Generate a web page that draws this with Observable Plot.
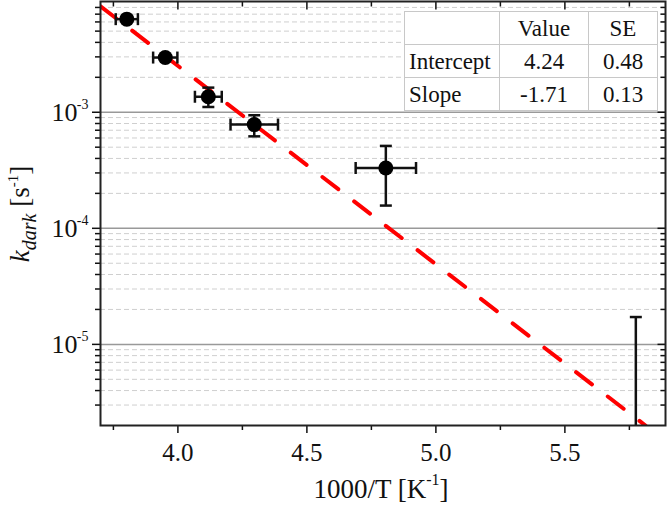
<!DOCTYPE html>
<html>
<head>
<meta charset="utf-8">
<script src="https://cdn.jsdelivr.net/npm/d3@7"></script>
<script src="https://cdn.jsdelivr.net/npm/@observablehq/plot@0.6"></script>
<style>
  body { margin: 0; background: #fff; }
  #wrap { position: relative; width: 667px; height: 512px; font-family: 'Liberation Serif', serif; }
  #tbl { position: absolute; left: 404px; top: 11px; width: 253px; table-layout: fixed; border-collapse: collapse; background: #fff;
         font-family: 'Liberation Serif', serif; font-size: 23px; color: #111; border: 1.5px solid #777; }
  #tbl tr { height: 33px; }
  #tbl td { border: 1px solid #c8c8c8; padding: 0; line-height: 1; white-space: nowrap; }
  #tbl td.c0 { text-align: left; padding-left: 4px; }
  #tbl td.c1, #tbl td.c2 { text-align: center; }
</style>
</head>
<body>
<div id="wrap"></div>
<script>
// ---- data ----
const invT     = [3.802, 3.951, 4.118, 4.296, 4.806, 5.775];      // 1000/T [K^-1]
const invTErr  = [0.043, 0.047, 0.052, 0.092, 0.117, 0];
const kDark    = [6.34e-3, 2.96e-3, 1.36e-3, 7.83e-4, 3.31e-4, 1e-6]; // s^-1 (last point off-scale)
const kLow     = [6.1e-3, 2.85e-3, 1.11e-3, 6.2e-4, 1.57e-4, 1e-7];
const kHigh    = [6.6e-3, 3.08e-3, 1.63e-3, 9.42e-4, 5.13e-4, 1.72e-5];

const fitRows  = ["Intercept", "Slope"];
const fitValue = [4.24, -1.71];
const fitSE    = [0.48, 0.13];
const fitCols  = ["", "Value", "SE"];

const xDomain  = [3.70, 5.89];
const yDomain  = [2e-6, 9e-3];
const xMajor   = [4.0, 4.5, 5.0, 5.5];
const xMinor   = [3.75, 4.25, 4.75, 5.25, 5.75];
const yMajor   = [1e-5, 1e-4, 1e-3];
const yMinor   = [3e-6, 4e-6, 5e-6, 6e-6, 7e-6, 8e-6, 9e-6,
                  2e-5, 3e-5, 4e-5, 5e-5, 6e-5, 7e-5, 8e-5, 9e-5,
                  2e-4, 3e-4, 4e-4, 5e-4, 6e-4, 7e-4, 8e-4, 9e-4,
                  2e-3, 3e-3, 4e-3, 5e-3, 6e-3, 7e-3, 8e-3];

const FONT = "'Liberation Serif', serif";

// ---- derived tables ----
const points = invT.map((x, i) => ({
  x, k: kDark[i], xlo: x - invTErr[i], xhi: x + invTErr[i], klo: kLow[i], khi: kHigh[i]
}));
// fitted line log10(k) = Intercept + Slope * x, between the left edge and where it leaves the bottom
const xEnd = (Math.log10(yDomain[0]) - fitValue[0]) / fitValue[1];
const fitLine = [xDomain[0], Math.min(xEnd, xDomain[1])].map(x => ({x, k: Math.pow(10, fitValue[0] + fitValue[1] * x)}));

// custom symbols for caps and inward ticks
const len = size => Math.sqrt(size / Math.PI);
const capV = {draw(ctx, s) { const r = len(s); ctx.moveTo(0, -r); ctx.lineTo(0, r); }};
const capH = {draw(ctx, s) { const r = len(s); ctx.moveTo(-r, 0); ctx.lineTo(r, 0); }};
const tickDown = {draw(ctx, s) { const r = len(s); ctx.moveTo(0, 0); ctx.lineTo(0, r); }};
const tickLeft = {draw(ctx, s) { const r = len(s); ctx.moveTo(0, 0); ctx.lineTo(-r, 0); }};

const svg = Plot.plot({
  width: 667,
  height: 512,
  marginLeft: 100,
  marginRight: 2,
  marginTop: 1,
  marginBottom: 87,
  style: {fontFamily: FONT, fontSize: "24px", background: "white", color: "#111"},
  x: {domain: xDomain},
  y: {type: "log", domain: yDomain},
  marks: [
    Plot.ruleY(yMinor, {y: d => d, stroke: "#cfcfcf", strokeWidth: 1, strokeDasharray: "5,3"}),
    Plot.ruleY(yMajor, {y: d => d, stroke: "#999", strokeWidth: 1.5}),
    // axes (outward ticks)
    Plot.axisX({ticks: xMajor, tickSize: 8, tickPadding: 10, tickFormat: d3.format(".1f"), strokeWidth: 1.5, fontSize: 25, label: null}),
    Plot.axisX({ticks: xMinor, tickSize: 5, strokeWidth: 1.5, fill: "none", label: null}),
    Plot.axisY({ticks: yMajor, tickSize: 8, strokeWidth: 1.5, fill: "none", label: null}),
    Plot.axisY({ticks: yMinor, tickSize: 5, strokeWidth: 1.5, fill: "none", label: null}),
    // mirrored inward ticks on top and right
    Plot.dot(xMajor, {x: d => d, frameAnchor: "top", symbol: tickDown, r: 8, fill: "none", stroke: "#111", strokeWidth: 1.5}),
    Plot.dot(xMinor, {x: d => d, frameAnchor: "top", symbol: tickDown, r: 5, fill: "none", stroke: "#111", strokeWidth: 1.5}),
    Plot.dot(yMajor, {y: d => d, frameAnchor: "right", symbol: tickLeft, r: 8, fill: "none", stroke: "#111", strokeWidth: 1.5}),
    Plot.dot(yMinor, {y: d => d, frameAnchor: "right", symbol: tickLeft, r: 5, fill: "none", stroke: "#111", strokeWidth: 1.5}),
    // y tick labels 10^n
    Plot.text(yMajor, {y: d => d, frameAnchor: "left", text: () => "10", textAnchor: "end", dx: -23, fontSize: 26, fill: "#111"}),
    Plot.text(yMajor, {y: d => d, frameAnchor: "left", text: d => String(Math.round(Math.log10(d))), textAnchor: "end", dx: -12, dy: -8, fontSize: 14, fill: "#111"}),
    // fit line
    Plot.line(fitLine, {x: "x", y: "k", stroke: "#ff0000", strokeWidth: 4, strokeDasharray: "20,20", clip: true}),
    // error bars
    Plot.link(points, {x1: "xlo", x2: "xhi", y1: "k", y2: "k", stroke: "#111", strokeWidth: 2.5, clip: true}),
    Plot.link(points, {x1: "x", x2: "x", y1: "klo", y2: "khi", stroke: "#111", strokeWidth: 2.5, clip: true}),
    Plot.dot(points, {x: "xlo", y: "k", symbol: capV, r: 6, fill: "none", stroke: "#111", strokeWidth: 2.5, clip: true}),
    Plot.dot(points, {x: "xhi", y: "k", symbol: capV, r: 6, fill: "none", stroke: "#111", strokeWidth: 2.5, clip: true}),
    Plot.dot(points, {x: "x", y: "klo", symbol: capH, r: 6, fill: "none", stroke: "#111", strokeWidth: 2.5, clip: true}),
    Plot.dot(points, {x: "x", y: "khi", symbol: capH, r: 6, fill: "none", stroke: "#111", strokeWidth: 2.5, clip: true}),
    Plot.dot(points, {x: "x", y: "k", r: 7.5, fill: "#000", clip: true}),
    Plot.frame({stroke: "#222", strokeWidth: 2})
  ]
});

// axis titles with sub/superscripts
const s = d3.select(svg);
const xt = s.append("text")
  .attr("x", 381).attr("y", 498).attr("text-anchor", "middle")
  .style("font-family", FONT).attr("font-size", 27).attr("fill", "#111");
xt.append("tspan").text("1000/T [K");
xt.append("tspan").attr("dy", -13).attr("font-size", 16).text("-1");
xt.append("tspan").attr("dy", 13).text("]");

const yt = s.append("text")
  .attr("transform", "translate(29,214) rotate(-90)")
  .attr("text-anchor", "middle").style("font-family", FONT).attr("font-size", 27).attr("fill", "#111");
yt.append("tspan").attr("font-style", "italic").text("k");
yt.append("tspan").attr("font-style", "italic").attr("font-size", 20).attr("dy", 7).text("dark");
yt.append("tspan").attr("dy", -7).text(" [s");
yt.append("tspan").attr("dy", -11).attr("font-size", 15).text("-1");
yt.append("tspan").attr("dy", 11).text("]");

const wrap = document.getElementById("wrap");
wrap.appendChild(svg);

// fit-result table
const tbl = document.createElement("table");
tbl.id = "tbl";
const cg = document.createElement("colgroup");
[95, 89, 69].forEach(w => { const col = document.createElement("col"); col.style.width = w + "px"; cg.appendChild(col); });
tbl.appendChild(cg);
const tb = document.createElement("tbody");
tbl.appendChild(tb);
const header = tb.insertRow();
fitCols.forEach((c, j) => { const td = header.insertCell(); td.className = "c" + j; td.textContent = c; });
fitRows.forEach((r, i) => {
  const tr = tb.insertRow();
  [r, fitValue[i].toFixed(2), fitSE[i].toFixed(2)].forEach((v, j) => {
    const td = tr.insertCell(); td.className = "c" + j; td.textContent = v;
  });
});
wrap.appendChild(tbl);
</script>
</body>
</html>
